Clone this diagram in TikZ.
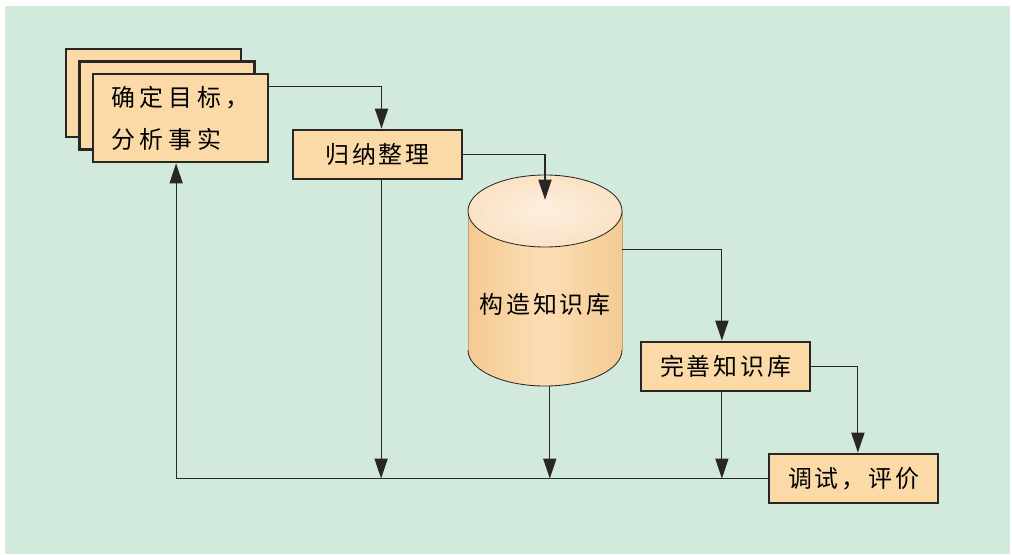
\documentclass[tikz,border=0pt]{standalone}
\usepackage{fontspec}
\setmainfont{Noto Sans CJK SC}
\newfontfamily\cjkfont[LetterSpace=12]{Noto Sans CJK SC}
\newfontfamily\cjkwide[LetterSpace=20]{Noto Sans CJK SC}
\usetikzlibrary{arrows.meta}
\definecolor{bggreen}{RGB}{210,234,220}
\definecolor{boxfill}{RGB}{252,218,168}
\definecolor{cyledge}{RGB}{244,202,146}
\definecolor{cylmid}{RGB}{252,222,180}
\definecolor{cyltop}{RGB}{251,230,205}
\definecolor{lineclr}{RGB}{40,38,38}

\begin{document}
\begin{tikzpicture}[x=0.025cm,y=-0.025cm]
            \tikzset{stepbox/.style = {draw=lineclr, line width=2pt, fill=boxfill, inner sep=0pt, minimum width=4.225cm, minimum height=1.225cm, font=\cjkfont\fontsize{17}{20}\selectfont}}
            \tikzset{pagebox/.style = {stepbox, minimum width=4.375cm, minimum height=2.2cm}}
            \tikzset{flow/.style = {draw=lineclr, line width=0.75pt, -{Triangle[length=5mm, width=3.3mm]}}}
            \useasboundingbox (0,0) rectangle (1012,554);
            \fill[bggreen] (5,6) rectangle (1010,554);
            
            \node[pagebox] (back) at (153.5,93) {};
            \node[pagebox] (mid) at (167,105.5) {};
            \node[pagebox, align=left, font=\cjkwide\fontsize{17}{30}\selectfont] (front) at (180.5,118) {确定目标，\\分析事实};
            
            \node[stepbox] (ind) at (377.5,154.5) {归纳整理};
            
            \shade[left color=cyledge, right color=cyledge, middle color=cylmid] (468,211) -- (468,350) arc[start angle=180, end angle=0, x radius=77, y radius=36] -- (622,211) -- cycle;
            \draw[lineclr, line width=0.6pt] (468,350) arc[start angle=180, end angle=0, x radius=77, y radius=36];
            \draw[cyledge!80!black, line width=0.4pt] (468,211) -- (468,350);
            \draw[cyledge!80!black, line width=0.4pt] (622,211) -- (622,350);
            \draw[lineclr, line width=0.6pt, inner color=cyltop!60!white, outer color=cyltop!85!cyledge] (545,211) ellipse [x radius=77, y radius=36];
            \node[inner sep=0pt, minimum width=3.85cm, minimum height=5.275cm] (kb) at (545,280.5) {};
            \node[font=\cjkfont\fontsize{17}{20}\selectfont] (kbtext) at ([yshift=-0.6cm]kb.center) {构造知识库};
            
            \node[stepbox] (imp) at (725.5,366.5) {完善知识库};
            \node[stepbox] (test) at (853.5,478.5) {调试，评价};
            
            \draw[flow] ([yshift=-0.35cm]front.north east) -| ([xshift=0.1cm]ind.north);
            \draw[flow] (ind.east) -| ([yshift=-0.625cm]kb.north);
            \draw[flow] ([yshift=-1.875cm]kb.north east) -| ([xshift=-0.09cm]imp.north);
            \draw[flow] (imp.east) -| ([xshift=0.11cm]test.north);
            \draw[flow] (test.west) -| ([xshift=-0.11cm]front.south);
            
            \draw[flow] ([xshift=0.09cm]ind.south) -- ([xshift=0.09cm]ind.south |- test.west);
            \draw[flow] ([xshift=0.12cm]kb.south) -- ([xshift=0.12cm]kb.south |- test.west);
            \draw[flow] ([xshift=-0.09cm]imp.south) -- ([xshift=-0.09cm]imp.south |- test.west);
            
        \end{tikzpicture}
\end{document}
